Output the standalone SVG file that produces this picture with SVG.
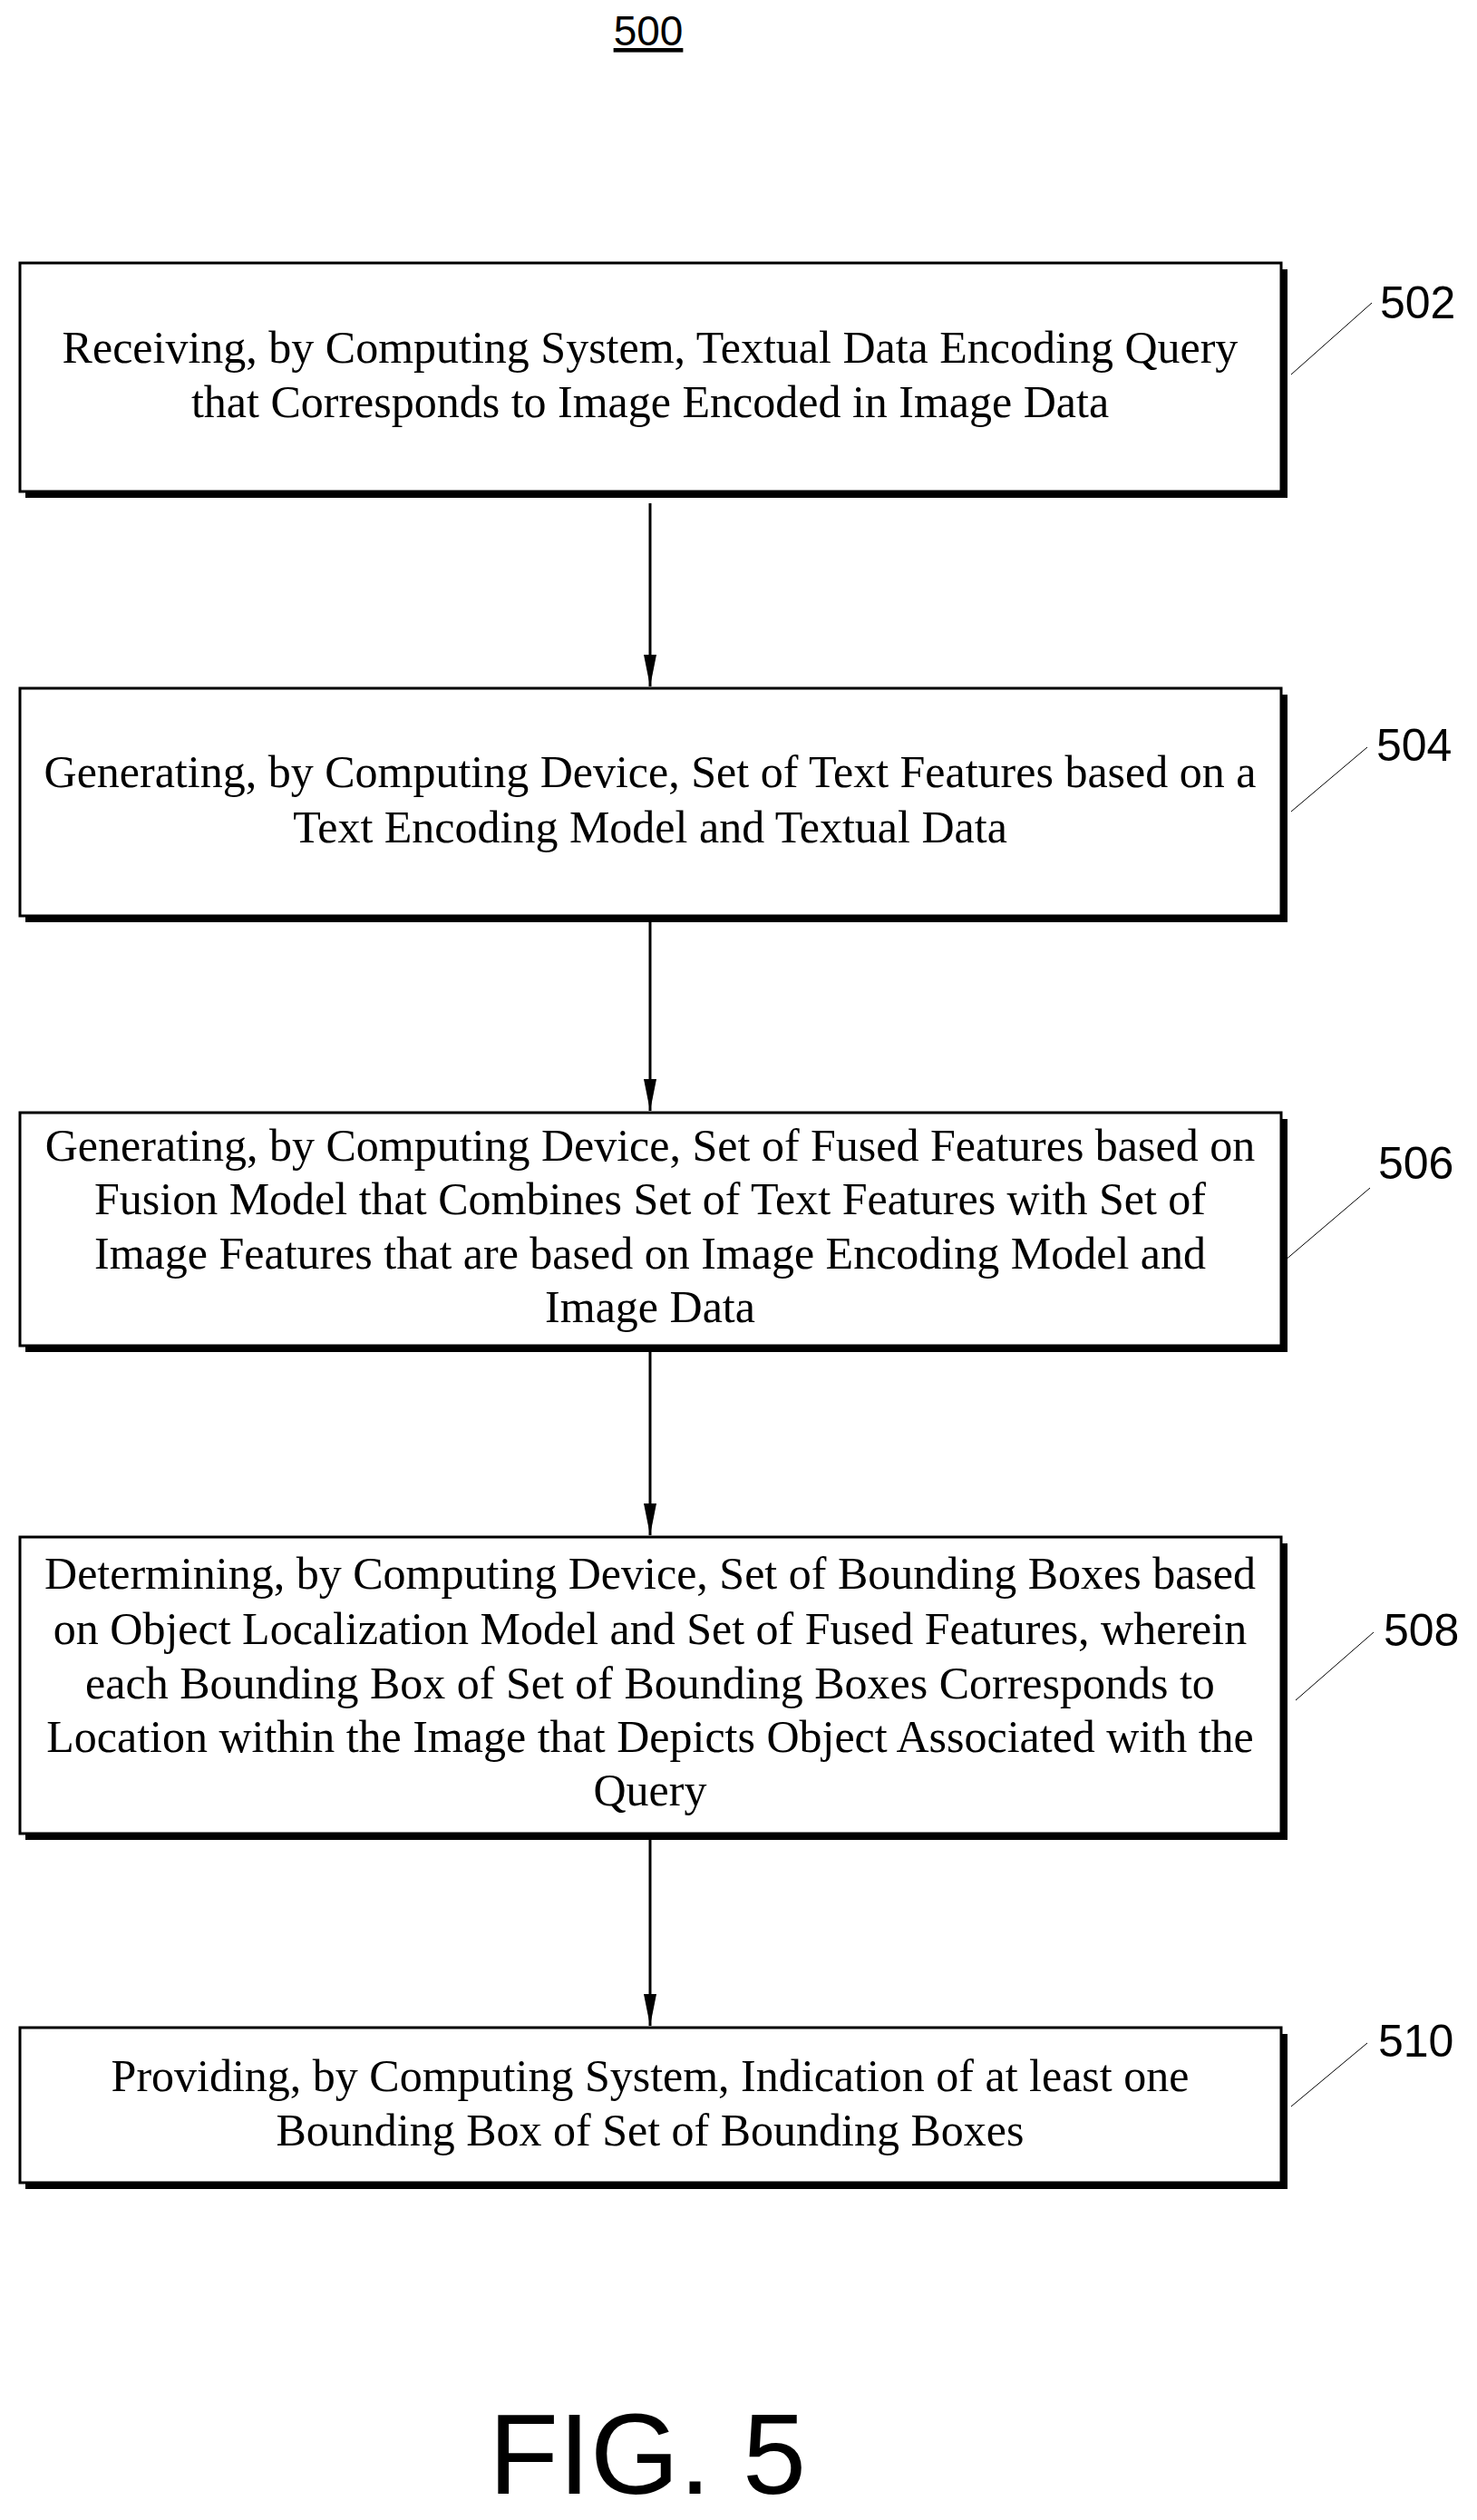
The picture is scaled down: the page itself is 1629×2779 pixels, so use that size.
<svg xmlns="http://www.w3.org/2000/svg" width="1629" height="2779" viewBox="0 0 1629 2779">
<style>
.box{fill:#fff;stroke:#000;stroke-width:3}
.sh{fill:#000}
.t{font-family:"Liberation Serif",serif;font-size:50px;text-anchor:middle;fill:#000}
.lbl{font-family:"Liberation Sans",Arial,sans-serif;font-size:50px;fill:#000}
.ld{stroke:#000;stroke-width:1;fill:none}
.c{stroke:#000;stroke-width:3;fill:none}
</style>
<text x="715" y="50" font-family="Liberation Sans,Arial,sans-serif" font-size="46" text-anchor="middle" text-decoration="underline">500</text>
<g id="connectors">
<line class="c" x1="717" y1="555" x2="717" y2="757"/>
<path d="M710,722 L724,722 L717,757 Z"/>
<line class="c" x1="717" y1="1006" x2="717" y2="1225"/>
<path d="M710,1190 L724,1190 L717,1225 Z"/>
<line class="c" x1="717" y1="1484" x2="717" y2="1693"/>
<path d="M710,1658 L724,1658 L717,1693 Z"/>
<line class="c" x1="717" y1="2022" x2="717" y2="2234"/>
<path d="M710,2199 L724,2199 L717,2234 Z"/>
</g>
<g id="n502">
<rect class="sh" x="28" y="297" width="1392" height="252"/>
<rect class="box" x="22" y="290" width="1391" height="252"/>
<text class="t" x="717" y="400">Receiving, by Computing System, Textual Data Encoding Query</text>
<text class="t" x="717" y="460">that Corresponds to Image Encoded in Image Data</text>
<text class="lbl" x="1522" y="351">502</text>
<line class="ld" x1="1513" y1="334" x2="1424" y2="413"/>
</g>
<g id="n504">
<rect class="sh" x="28" y="766" width="1392" height="251"/>
<rect class="box" x="22" y="759" width="1391" height="251"/>
<text class="t" x="717" y="868">Generating, by Computing Device, Set of Text Features based on a</text>
<text class="t" x="717" y="929">Text Encoding Model and Textual Data</text>
<text class="lbl" x="1518" y="839">504</text>
<line class="ld" x1="1508" y1="824" x2="1424" y2="895"/>
</g>
<g id="n506">
<rect class="sh" x="28" y="1234" width="1392" height="257"/>
<rect class="box" x="22" y="1227" width="1391" height="257"/>
<text class="t" x="717" y="1280">Generating, by Computing Device, Set of Fused Features based on</text>
<text class="t" x="717" y="1339">Fusion Model that Combines Set of Text Features with Set of</text>
<text class="t" x="717" y="1399">Image Features that are based on Image Encoding Model and</text>
<text class="t" x="717" y="1458">Image Data</text>
<text class="lbl" x="1520" y="1300">506</text>
<line class="ld" x1="1511" y1="1310" x2="1417" y2="1390"/>
</g>
<g id="n508">
<rect class="sh" x="28" y="1702" width="1392" height="327"/>
<rect class="box" x="22" y="1695" width="1391" height="327"/>
<text class="t" x="717" y="1752">Determining, by Computing Device, Set of Bounding Boxes based</text>
<text class="t" x="717" y="1813">on Object Localization Model and Set of Fused Features, wherein</text>
<text class="t" x="717" y="1873">each Bounding Box of Set of Bounding Boxes Corresponds to</text>
<text class="t" x="717" y="1932">Location within the Image that Depicts Object Associated with the</text>
<text class="t" x="717" y="1991">Query</text>
<text class="lbl" x="1526" y="1815">508</text>
<line class="ld" x1="1515" y1="1800" x2="1429" y2="1875"/>
</g>
<g id="n510">
<rect class="sh" x="28" y="2243" width="1392" height="171"/>
<rect class="box" x="22" y="2236" width="1391" height="171"/>
<text class="t" x="717" y="2306">Providing, by Computing System, Indication of at least one</text>
<text class="t" x="717" y="2366">Bounding Box of Set of Bounding Boxes</text>
<text class="lbl" x="1520" y="2268">510</text>
<line class="ld" x1="1508" y1="2253" x2="1424" y2="2323"/>
</g>
<text x="714" y="2750" font-family="Liberation Sans,Arial,sans-serif" font-size="126" text-anchor="middle">FIG. 5</text>
</svg>
